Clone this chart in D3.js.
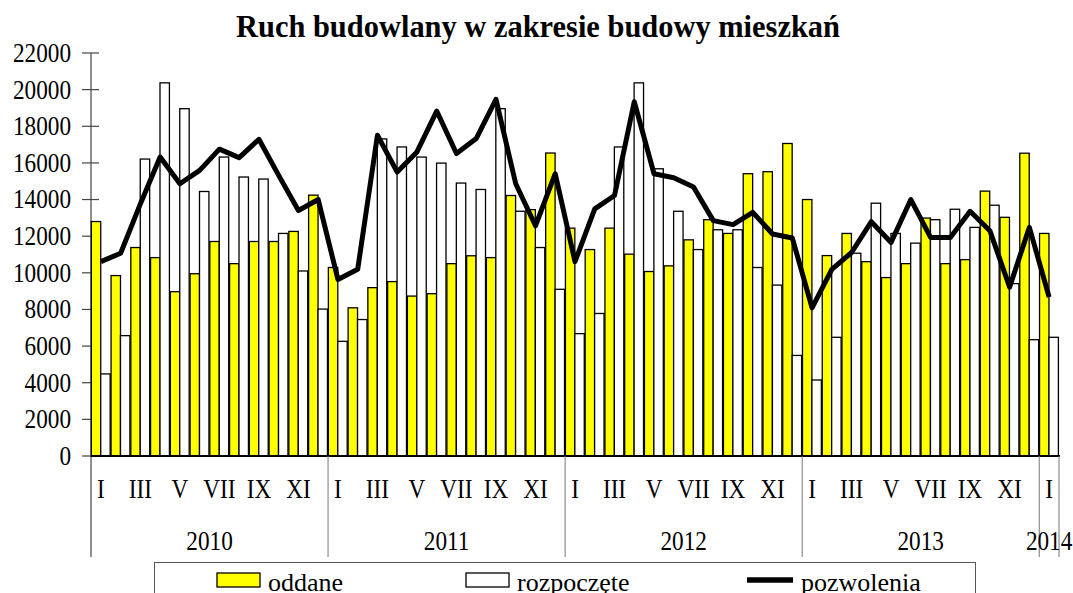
<!DOCTYPE html>
<html>
<head>
<meta charset="utf-8">
<script src="https://cdn.jsdelivr.net/npm/d3@7"></script>
<style>
    body { margin: 0; background: white; }
    text { font-family: "Liberation Serif", "Times New Roman", serif; fill: black; }
</style>
</head>
<body>
<script>
// data (Jan 2010 - Jan 2014)
const years = ["2010", "2011", "2012", "2013", "2014"];
const year_months = [12, 12, 12, 12, 1];
const months = ["I", "II", "III", "IV", "V", "VI", "VII", "VIII", "IX", "X", "XI", "XII"];
const y_ticks = [0, 2000, 4000, 6000, 8000, 10000, 12000, 14000, 16000, 18000, 20000, 22000];

const oddane = [
    12800, 9850, 11380, 10830, 8970, 9950, 11710, 10500, 11710, 11710, 12260, 14240,
    10290, 8090, 9190, 9520, 8730, 8860, 10500, 10930, 10830, 14220, 13450, 16540,
    12440, 11270, 12440, 11020, 10070, 10380, 11800, 12900, 12150, 15410, 15520, 17060,
    14000, 10940, 12150, 10610, 9740, 10500, 12990, 10500, 10720, 14460, 13030, 16530,
    12150
];
const rozpoczete = [
    4480, 6570, 16210, 20370, 18960, 14440, 16320, 15230, 15120, 12150, 10100, 8020,
    6260, 7450, 17310, 16870, 16320, 15990, 14900, 14550, 18960, 13360, 11380, 9100,
    6680, 7780, 16870, 20370, 15680, 13360, 11270, 12350, 12350, 10290, 9330, 5490,
    4150, 6480, 11070, 13800, 12150, 11620, 12900, 13470, 12480, 13690, 9410, 6350,
    6480
];
const pozwolenia = [
    10610, 11070, 13760, 16320, 14860, 15590, 16750, 16290, 17290, 15320, 13400, 14000,
    9640, 10190, 17510, 15500, 16600, 18830, 16510, 17330, 19470, 14860, 12570, 15410,
    10610, 13490, 14220, 19340, 15410, 15190, 14680, 12850, 12630, 13300, 12120, 11900,
    8090, 10190, 11110, 12790, 11660, 14000, 11930, 11930, 13360, 12300, 9220, 12480,
    8670
];

const wb = 1073;
const hb = 593;
const plot = { left: 91, right: 1059, top: 53, bottom: 456 };
const axis_bottom = 557;

// squeeze text horizontally, the reference font is a narrow Times
const squeeze = (sel, k) => sel.each(function () {
    const w = this.getComputedTextLength();
    d3.select(this)
        .attr("textLength", w * k)
        .attr("lengthAdjust", "spacingAndGlyphs");
});

const svg = d3.select("body")
    .append("svg")
    .attr("width", wb)
    .attr("height", hb);

// title
svg.append("text")
    .attr("x", 538)
    .attr("y", 37)
    .attr("text-anchor", "middle")
    .style("font-size", "31px")
    .style("font-weight", "bold")
    .text("Ruch budowlany w zakresie budowy mieszkań")
    .attr("textLength", 604)
    .attr("lengthAdjust", "spacingAndGlyphs");

// scales
const n = oddane.length;
const x = d3.scaleBand()
    .domain(d3.range(n))
    .range([plot.left, plot.right])
    .padding(0);
const bw = x.bandwidth();
const xs = d3.scaleBand()
    .domain(["oddane", "rozpoczete"])
    .range([0.3, bw - 0.6]);
const y = d3.scaleLinear()
    .domain([0, 22000])
    .range([plot.bottom, plot.top]);

// y axis
const yax = svg.append("g").attr("id", "y_axis");
yax.append("line")
    .attr("x1", plot.left).attr("x2", plot.left)
    .attr("y1", y(22000)).attr("y2", axis_bottom)
    .attr("stroke", "#444")
    .attr("stroke-width", 1.2);
yax.selectAll("line.tick")
    .data(y_ticks)
    .join("line")
    .attr("class", "tick")
    .attr("x1", plot.left - 9).attr("x2", plot.left + 8)
    .attr("y1", d => y(d)).attr("y2", d => y(d))
    .attr("stroke", "#444")
    .attr("stroke-width", 1.2);
yax.selectAll("text")
    .data(y_ticks)
    .join("text")
    .attr("x", 71)
    .attr("y", d => y(d))
    .attr("dy", "0.33em")
    .attr("text-anchor", "end")
    .style("font-size", "27px")
    .text(d => d)
    .call(squeeze, 0.86);

// bars
const groups = svg.append("g")
    .attr("id", "bars")
    .selectAll("g")
    .data(d3.range(n))
    .join("g")
    .attr("transform", i => `translate(${x(i)}, 0)`);
groups.append("rect")
    .attr("x", xs("oddane"))
    .attr("width", xs.bandwidth())
    .attr("y", i => y(oddane[i]))
    .attr("height", i => y(0) - y(oddane[i]))
    .attr("fill", "#ffff00")
    .attr("stroke", "black")
    .attr("stroke-width", 1.3);
groups.append("rect")
    .attr("x", xs("rozpoczete"))
    .attr("width", xs.bandwidth())
    .attr("y", i => y(rozpoczete[i]))
    .attr("height", i => y(0) - y(rozpoczete[i]))
    .attr("fill", "white")
    .attr("stroke", "black")
    .attr("stroke-width", 1.3);

// line
svg.append("path")
    .datum(pozwolenia)
    .attr("fill", "none")
    .attr("stroke", "black")
    .attr("stroke-width", 5)
    .attr("stroke-linejoin", "round")
    .attr("d", d3.line()
        .x((d, i) => x(i) + bw / 2)
        .y(d => y(d)));

// x axis: baseline, year separators, month and year labels
const xax = svg.append("g").attr("id", "x_axis");
xax.append("line")
    .attr("x1", plot.left).attr("x2", plot.right + 1)
    .attr("y1", y(0)).attr("y2", y(0))
    .attr("stroke", "black")
    .attr("stroke-width", 2);

const starts = year_months.map((m, k) => d3.sum(year_months.slice(0, k)));
const bounds = starts.concat([n]);
xax.selectAll("line.sep")
    .data(bounds.slice(1))
    .join("line")
    .attr("class", "sep")
    .attr("x1", i => x(i) ?? plot.right).attr("x2", i => x(i) ?? plot.right)
    .attr("y1", y(0)).attr("y2", axis_bottom)
    .attr("stroke", "#777")
    .attr("stroke-width", 1);

xax.selectAll("text.month")
    .data(d3.range(n).filter(i => i % 12 % 2 === 0))
    .join("text")
    .attr("class", "month")
    .attr("x", i => x(i) + bw / 2)
    .attr("y", 498)
    .attr("text-anchor", "middle")
    .style("font-size", "27px")
    .text(i => months[i % 12])
    .call(squeeze, 0.86);

xax.selectAll("text.year")
    .data(years)
    .join("text")
    .attr("class", "year")
    .attr("x", (d, k) => (x(starts[k]) + (x(bounds[k + 1]) ?? plot.right)) / 2)
    .attr("y", 550)
    .attr("text-anchor", "middle")
    .style("font-size", "27px")
    .text(d => d)
    .call(squeeze, 0.86);

// legend
const leg = svg.append("g").attr("id", "legend");
leg.append("rect")
    .attr("x", 154.5).attr("y", 562.5)
    .attr("width", 821).attr("height", 60)
    .attr("fill", "white")
    .attr("stroke", "#555")
    .attr("stroke-width", 1);
leg.append("rect")
    .attr("x", 217).attr("y", 573)
    .attr("width", 43).attr("height", 14)
    .attr("fill", "#ffff00")
    .attr("stroke", "black")
    .attr("stroke-width", 1.3);
leg.append("text")
    .attr("x", 268).attr("y", 591)
    .style("font-size", "26px")
    .text("oddane");
leg.append("rect")
    .attr("x", 466).attr("y", 573)
    .attr("width", 43).attr("height", 14)
    .attr("fill", "white")
    .attr("stroke", "black")
    .attr("stroke-width", 1.3);
leg.append("text")
    .attr("x", 517).attr("y", 591)
    .style("font-size", "26px")
    .text("rozpoczęte");
leg.append("line")
    .attr("x1", 747).attr("x2", 793)
    .attr("y1", 580).attr("y2", 580)
    .attr("stroke", "black")
    .attr("stroke-width", 5.5);
leg.append("text")
    .attr("x", 801).attr("y", 591)
    .style("font-size", "26px")
    .text("pozwolenia");
</script>
</body>
</html>
